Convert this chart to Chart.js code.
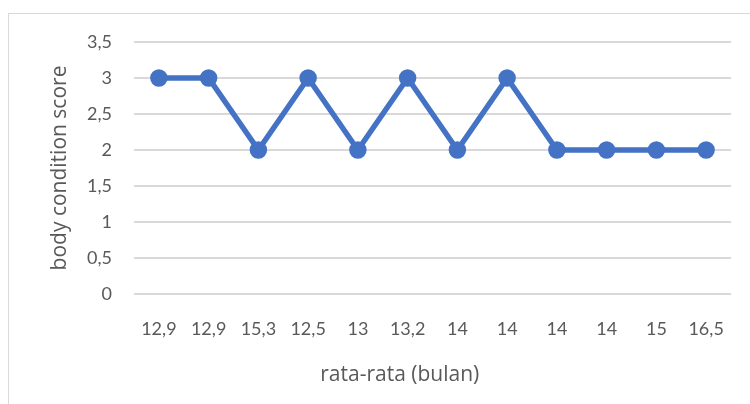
<!DOCTYPE html>
<html>
<head>
<meta charset="utf-8">
<script src="https://cdn.jsdelivr.net/npm/chart.js@4.4.1/dist/chart.umd.min.js"></script>
<style>
  html, body { margin: 0; padding: 0; background: #fff; }
  #wrap { width: 750px; height: 404px; position: relative; }
</style>
</head>
<body>
<div id="wrap"><canvas id="myChart" width="750" height="404"></canvas></div>
<script>
// data
const categories = ['12,9', '12,9', '15,3', '12,5', '13', '13,2', '14', '14', '14', '14', '15', '16,5'];
const scores = [3, 3, 2, 3, 2, 3, 2, 3, 2, 2, 2, 2];
const yTitle = 'body condition score';
const xTitle = 'rata-rata (bulan)';

const fontFam = "Lato, 'Open Sans', sans-serif";
const titleFam = "'Open Sans', Lato, sans-serif";
const textCol = '#595959';

// light frame around the chart like the excel chart area
const framePlugin = {
  id: 'frame',
  beforeDraw(chart) {
    const c = chart.ctx;
    c.save();
    c.strokeStyle = '#d9d9d9';
    c.lineWidth = 1;
    c.strokeRect(8.5, 13.5, 800, 500);
    c.restore();
  }
};

window.onload = function() {
  var ctx = document.getElementById('myChart').getContext('2d');
  new Chart(ctx, {
    type: 'line',
    data: {
      labels: categories,
      datasets: [{
        data: scores,
        borderColor: '#4472C4',
        backgroundColor: '#4472C4',
        borderWidth: 5.5,
        pointRadius: 6,
        pointHoverRadius: 6,
        tension: 0,
      }],
    },
    options: {
      responsive: false,
      animation: false,
      layout: { padding: { top: 42, right: 19, left: 8, bottom: 0 } },
      plugins: { legend: { display: false }, tooltip: { enabled: false } },
      scales: {
        x: {
          offset: true,
          grid: { display: false, drawTicks: false },
          border: { display: false },
          ticks: { color: textCol, font: { family: fontFam, size: 18 }, padding: 24, maxRotation: 0, autoSkip: false },
          title: {
            display: true,
            // trailing spaces pull the centred title left, as in the excel chart
            text: xTitle + '\u00a0'.repeat(12),
            color: textCol,
            font: { family: titleFam, size: 21 },
            padding: { top: 10, bottom: 16 },
          },
          afterFit(s) { s.height = 404 - 294; },
        },
        y: {
          min: 0,
          max: 3.5,
          grid: { color: '#d9d9d9', lineWidth: 2, drawTicks: false },
          border: { display: false },
          ticks: {
            stepSize: 0.5,
            color: textCol,
            font: { family: fontFam, size: 18 },
            padding: 22,
            callback: v => String(v).replace('.', ','),
          },
          title: { display: true, text: yTitle, color: textCol, font: { family: titleFam, size: 21 }, padding: { top: 39, bottom: 0 } },
          afterFit(s) { s.width = 134 - 8; },
        },
      },
    },
    plugins: [framePlugin],
  });
};
</script>
</body>
</html>
